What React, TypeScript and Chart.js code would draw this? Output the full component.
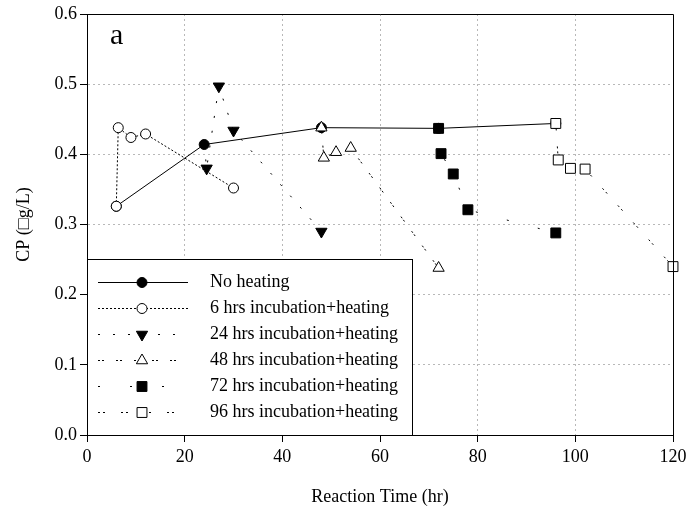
import React, { useEffect, useRef } from 'react';
import { Chart, registerables } from 'chart.js';

Chart.register(...registerables);

const FONT = "'Liberation Serif', 'Times New Roman', Times, serif";

// ---- data ----
const noHeatX = [6, 24, 48, 72, 96];
const noHeatY = [0.326, 0.414, 0.438, 0.437, 0.444];
const inc6X = [6, 6.4, 9, 12, 30];
const inc6Y = [0.326, 0.438, 0.424, 0.429, 0.352];
const inc24X = [24, 24.5, 27, 30, 48];
const inc24Y = [0.414, 0.38, 0.497, 0.434, 0.29];
const inc48X = [48, 48.5, 51, 54, 72];
const inc48Y = [0.438, 0.395, 0.403, 0.409, 0.238];
const inc72X = [72, 72.5, 75, 78, 96];
const inc72Y = [0.437, 0.401, 0.372, 0.321, 0.288];
const inc96X = [96, 96.5, 99, 102, 120];
const inc96Y = [0.444, 0.392, 0.38, 0.379, 0.24];

const seriesLabels = [
  'No heating',
  '6 hrs incubation+heating',
  '24 hrs incubation+heating',
  '48 hrs incubation+heating',
  '72 hrs incubation+heating',
  '96 hrs incubation+heating',
];
const xLabel = 'Reaction Time (hr)';
const yLabel = 'CP (\u25A1g/L)';
const panelLabel = 'a';

// ---- styles ----
type Style = { dash: number[]; shape: string; fill: string; radius: number; rotation: number };
const styles: Style[] = [
  { dash: [], shape: 'circle', fill: '#000', radius: 5, rotation: 0 },
  { dash: [2, 2], shape: 'circle', fill: '#fff', radius: 5, rotation: 0 },
  { dash: [2, 13], shape: 'triangle', fill: '#000', radius: 6.5, rotation: 180 },
  { dash: [2, 2, 2, 12], shape: 'triangle', fill: '#fff', radius: 6.5, rotation: 0 },
  { dash: [2, 30], shape: 'rect', fill: '#000', radius: 7, rotation: 0 },
  { dash: [2, 3, 2, 16], shape: 'rect', fill: '#fff', radius: 7, rotation: 0 },
];

const xs = [noHeatX, inc6X, inc24X, inc48X, inc72X, inc96X];
const ys = [noHeatY, inc6Y, inc24Y, inc48Y, inc72Y, inc96Y];
const hiddenFirst = [false, false, true, false, false, false];

function drawMarker(ctx: CanvasRenderingContext2D, s: Style, x: number, y: number) {
  ctx.save();
  ctx.setLineDash([]);
  ctx.fillStyle = s.fill;
  ctx.strokeStyle = '#000';
  ctx.lineWidth = 1;
  ctx.beginPath();
  const r = s.radius;
  if (s.shape === 'circle') {
    ctx.arc(x, y, r, 0, Math.PI * 2);
  } else if (s.shape === 'triangle') {
    let a = (s.rotation * Math.PI) / 180;
    ctx.moveTo(x + Math.sin(a) * r, y - Math.cos(a) * r);
    a += (2 * Math.PI) / 3;
    ctx.lineTo(x + Math.sin(a) * r, y - Math.cos(a) * r);
    a += (2 * Math.PI) / 3;
    ctx.lineTo(x + Math.sin(a) * r, y - Math.cos(a) * r);
    ctx.closePath();
  } else {
    const h = Math.SQRT1_2 * r;
    ctx.rect(x - h, y - h, 2 * h, 2 * h);
  }
  ctx.fill();
  ctx.stroke();
  ctx.restore();
}

const framePlugin = {
  id: 'frame',
  afterDatasetsDraw(chart: any) {
    const { ctx, chartArea } = chart;
    ctx.save();
    ctx.strokeStyle = '#000';
    ctx.lineWidth = 1;
    ctx.setLineDash([]);
    ctx.beginPath();
    ctx.moveTo(chartArea.left, chartArea.top + 0.5);
    ctx.lineTo(chartArea.right + 0.5, chartArea.top + 0.5);
    ctx.lineTo(chartArea.right + 0.5, chartArea.bottom);
    ctx.stroke();

    // panel label
    ctx.fillStyle = '#000';
    ctx.font = `30px ${FONT}`;
    ctx.textBaseline = 'alphabetic';
    ctx.textAlign = 'left';
    ctx.fillText(panelLabel, chartArea.left + 23, chartArea.top + 30);

    // legend box
    const left = chartArea.left;
    const top = 259;
    const right = 412;
    const bottom = chartArea.bottom;
    ctx.fillStyle = '#fff';
    ctx.fillRect(left, top, right - left, bottom - top);
    ctx.strokeStyle = '#000';
    ctx.strokeRect(left + 0.5, top + 0.5, right - left, bottom - top);

    const rowY0 = 282;
    const rowStep = 26;
    seriesLabels.forEach((lab, i) => {
      const y = Math.round(rowY0 + i * rowStep) + 0.5;
      const s = styles[i];
      ctx.save();
      ctx.strokeStyle = '#000';
      ctx.lineWidth = 1;
      ctx.setLineDash(s.dash);
      ctx.beginPath();
      ctx.moveTo(98, y);
      ctx.lineTo(188, y);
      ctx.stroke();
      ctx.restore();
      drawMarker(ctx, s, 142, y);
      ctx.fillStyle = '#000';
      ctx.font = `18px ${FONT}`;
      ctx.textBaseline = 'middle';
      ctx.textAlign = 'left';
      ctx.fillText(lab, 210, y);
    });
    ctx.restore();
  },
};

export default function App() {
  const ref = useRef<HTMLCanvasElement | null>(null);

  useEffect(() => {
    if (!ref.current) return;
    const datasets = seriesLabels.map((label, i) => {
      const s = styles[i];
      return {
        label,
        data: xs[i].map((x, j) => ({ x, y: ys[i][j] })),
        showLine: true,
        borderColor: '#000',
        borderWidth: 1,
        borderDash: s.dash,
        backgroundColor: s.fill,
        pointBackgroundColor: s.fill,
        pointBorderColor: '#000',
        pointBorderWidth: 1,
        pointStyle: s.shape,
        pointRotation: s.rotation,
        pointRadius: xs[i].map((_, j) => (hiddenFirst[i] && j === 0 ? 0 : s.radius)),
        pointHoverRadius: s.radius,
        tension: 0,
        clip: false as any,
        order: i === 0 ? 10 : 6 - i,
      };
    });

    const gridColor = (max: number) => (c: any) => {
      const v = c.tick ? c.tick.value : 0;
      if (Math.abs(v) < 1e-9 || Math.abs(v - max) < 1e-9) return 'rgba(0,0,0,0)';
      return '#b8b8b8';
    };

    const chart = new Chart(ref.current, {
      type: 'scatter',
      data: { datasets: datasets as any },
      plugins: [framePlugin],
      options: {
        animation: false,
        responsive: false,
        events: [],
        layout: { padding: { left: 0, top: 14, right: 13, bottom: 0 } },
        plugins: { legend: { display: false }, tooltip: { enabled: false } },
        scales: {
          x: {
            type: 'linear',
            min: 0,
            max: 120,
            afterFit: (scale: any) => {
              scale.height = 78;
              scale.paddingRight = 0;
              scale.paddingLeft = 0;
            },
            ticks: {
              stepSize: 20,
              color: '#000',
              padding: 4,
              font: { family: FONT, size: 18 },
              callback: (v: any) => String(v),
            },
            grid: {
              color: gridColor(120),
              lineWidth: 1,
              tickColor: '#000',
              tickWidth: 1,
              tickLength: 7,
              tickBorderDash: [],
              drawTicks: true,
            },
            border: { display: true, color: '#000', width: 1, dash: [2, 3] },
            title: {
              display: true,
              text: xLabel,
              color: '#000',
              font: { family: FONT, size: 18 },
              padding: { top: 0, bottom: 5 },
            },
          },
          y: {
            type: 'linear',
            min: 0,
            max: 0.6,
            afterFit: (scale: any) => {
              scale.width = 87;
              scale.paddingTop = 0;
              scale.paddingBottom = 0;
            },
            ticks: {
              stepSize: 0.1,
              color: '#000',
              padding: 3,
              font: { family: FONT, size: 18 },
              callback: (v: any) => Number(v).toFixed(1),
            },
            grid: {
              color: gridColor(0.6),
              lineWidth: 1,
              tickColor: '#000',
              tickWidth: 1,
              tickLength: 7,
              tickBorderDash: [],
              drawTicks: true,
            },
            border: { display: true, color: '#000', width: 1, dash: [2, 3] },
            title: {
              display: true,
              text: yLabel,
              color: '#000',
              font: { family: FONT, size: 18 },
              padding: { top: 13, bottom: 0 },
            },
          },
        },
      } as any,
    });
    return () => chart.destroy();
  }, []);

  return (
    <div style={{ position: 'absolute', left: 0, top: 0, width: 686, height: 513, background: '#fff' }}>
      <canvas ref={ref} width={686} height={513} />
    </div>
  );
}
